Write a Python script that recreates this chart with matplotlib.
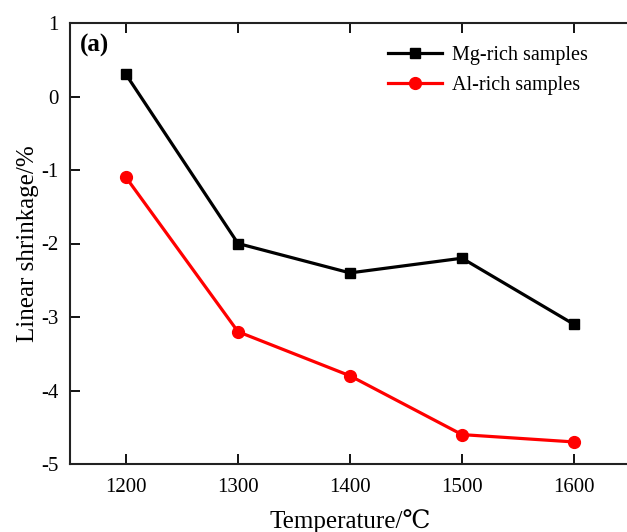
import matplotlib
matplotlib.use("Agg")
import matplotlib.pyplot as plt
from matplotlib.ticker import FuncFormatter

temps = [1200, 1300, 1400, 1500, 1600]
mg_rich = [0.3, -2.0, -2.4, -2.2, -3.1]
al_rich = [-1.1, -3.2, -3.8, -4.6, -4.7]
x_ticks = [1200, 1300, 1400, 1500, 1600]
y_ticks = [-5, -4, -3, -2, -1, 0, 1]

plt.rcParams['font.family'] = ['Liberation Serif', 'DejaVu Serif', 'DejaVu Sans']

W, H = 627, 532
fig = plt.figure(figsize=(W/100, H/100), dpi=100)
ax = fig.add_axes([70/W, 1 - 464/H, 560/W, (464-23)/H])

ax.plot(temps, mg_rich, color='black', lw=2.3, marker='s', ms=7.5, label='Mg-rich samples')
ax.plot(temps, al_rich, color='#ff0000', lw=2.3, marker='o', ms=8.5, label='Al-rich samples')

ax.set_xlim(1150, 1650)
ax.set_ylim(-5, 1)
ax.set_xticks(x_ticks)
ax.set_yticks(y_ticks)
ax.yaxis.set_major_formatter(FuncFormatter(lambda v, p: f"{int(round(v))}".replace('\u2212', '-')))
ax.tick_params(direction='in', length=7, width=1.3, labelsize=15, top=True, right=False, pad=8)
ax.tick_params(axis='x', pad=10)
for s in ax.spines.values():
    s.set_linewidth(1.5)
    s.set_color('#222222')

ax.set_xlabel('Temperature/\u2103', fontsize=18, labelpad=9)
ax.set_ylabel('Linear shrinkage/%', fontsize=18, labelpad=2)

ax.text(0.018, 0.975, '(a)', transform=ax.transAxes, fontsize=18, fontweight='bold', va='top', ha='left')

ax.legend(loc='upper left', bbox_to_anchor=(0.535, 0.99), frameon=False, fontsize=14.5,
          handlelength=2.7, handletextpad=0.5, labelspacing=0.55)

fig.savefig('out.png', dpi=100)
